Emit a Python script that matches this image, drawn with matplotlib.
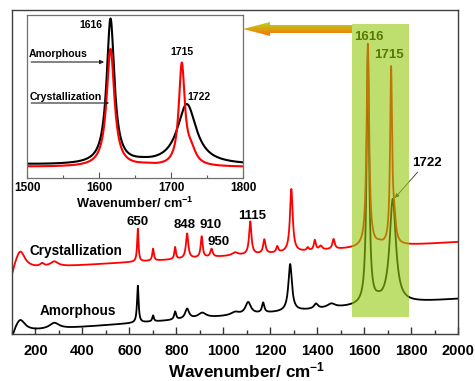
import numpy as np
import matplotlib
matplotlib.use("Agg")
import matplotlib.pyplot as plt
from matplotlib.patches import Rectangle, Polygon
from matplotlib.ticker import MultipleLocator

plt.rcParams['font.family'] = ['Liberation Sans', 'DejaVu Sans']
plt.rcParams['mathtext.fontset'] = 'custom'
plt.rcParams['mathtext.rm'] = 'Liberation Sans:bold'
plt.rcParams['mathtext.bf'] = 'Liberation Sans:bold'
plt.rcParams['mathtext.default'] = 'bf'

# ---------------- data ----------------
# Raman bands: centre (cm-1), height (a.u.), half width (cm-1)
amorph_centers = [100, 135, 280, 636, 701, 795, 846, 910, 1050, 1106, 1170, 1285, 1395, 1460, 1616, 1660, 1722]
amorph_heights = [-8, 12, 6, 37, 6, 8, 10, 5, 3, 12, 10, 47, 5, 4, 250, 2, 104]
amorph_widths = [10, 25, 25, 4, 4, 5, 10, 20, 20, 14, 6, 9, 10, 20, 6.5, 15, 16]
amorph_base = (0.0, 0.0175)          # baseline intercept, slope

cryst_centers = [100, 135, 228, 280, 636, 701, 795, 846, 908, 950, 1050, 1115, 1175, 1230, 1290,
                 1360, 1390, 1415, 1470, 1616, 1665, 1715, 1728]
cryst_heights = [-10, 18, 3, 5, 33, 12, 12, 25, 21, 8, 3, 33, 14, 6, 63,
                 3, 10, 4, 10, 203, 2, 173, 22]
cryst_widths = [10, 25, 10, 20, 3.5, 4, 4, 6, 5, 6, 15, 6, 6, 5, 7,
                5, 5, 8, 6, 6.5, 15, 5.0, 8]
cryst_base = (63.0, 0.0145)

# inset: same spectra, baseline removed and rescaled
inset_scale = 0.58
inset_offset_amorph = 13
inset_offset_cryst = 11

main_peak_labels = ["650", "848", "910", "950", "1115"]
main_label_x = [637, 837, 948, 982, 1122]
main_label_y = [112, 109, 109, 92, 118]

# ---------------- spectra ----------------
x = np.arange(100, 2000.01, 0.5)

def bands(centers, heights, widths):
    y = np.zeros_like(x)
    for c, h, w in zip(centers, heights, widths):
        y += h * w**2 / ((x - c)**2 + w**2)
    return y

amorph_bands = bands(amorph_centers, amorph_heights, amorph_widths)
cryst_bands = bands(cryst_centers, cryst_heights, cryst_widths)
amorph = amorph_base[0] + amorph_base[1] * x + amorph_bands
cryst = cryst_base[0] + cryst_base[1] * x + cryst_bands

W, H = 475, 381
fig = plt.figure(figsize=(W / 100, H / 100), dpi=100)

# ---------------- main axes ----------------
ax = fig.add_axes([12 / W, 1 - 334 / H, 446 / W, 324 / H])
ax.set_zorder(1)
ax.plot(x, amorph, color='black', lw=1.3, zorder=2)
ax.plot(x, cryst, color='#ff0000', lw=1.3, zorder=2)
ax.set_xlim(100, 2000)
ax.set_ylim(0, 324)
ax.set_yticks([])
ax.xaxis.set_major_locator(MultipleLocator(200))
ax.xaxis.set_minor_locator(MultipleLocator(100))
ax.tick_params(axis='x', which='major', direction='in', length=5, width=1, pad=7,
               labelsize=10.5, color='#333333')
ax.tick_params(axis='x', which='minor', direction='in', length=3, width=1, color='#333333')
for lab in ax.get_xticklabels():
    lab.set_fontweight('bold')
for s in ax.spines.values():
    s.set_color('#404040')
    s.set_linewidth(1.0)
ax.set_xlabel(r'Wavenumber/ cm$^{-1}$', fontsize=12.3, fontweight='bold')
ax.xaxis.set_label_coords(0.527, -0.081)

# highlight box
ax.add_patch(Rectangle((1550, 17), 240, 293, facecolor=(147 / 255, 200 / 255, 13 / 255),
                       alpha=0.6, edgecolor='none', zorder=3))
ax.text(1621, 297, '1616', ha='center', va='center', fontsize=9.5, fontweight='bold', zorder=2.5)
ax.text(1706, 279, '1715', ha='center', va='center', fontsize=9.5, fontweight='bold', zorder=2.5)
ax.text(1868, 171, '1722', ha='center', va='center', fontsize=9.5, fontweight='bold', zorder=4)
ax.annotate('', xy=(1723, 134), xytext=(1836, 164),
            arrowprops=dict(arrowstyle='-|>', color='#333333', lw=0.6, mutation_scale=6),
            zorder=2.5)

for t, tx, ty in zip(main_peak_labels, main_label_x, main_label_y):
    ax.text(tx, ty, t, ha='center', va='center', fontsize=9.5, fontweight='bold', zorder=4)

ax.text(373, 83, 'Crystallization', ha='center', va='center', fontsize=9.8, fontweight='bold')
ax.text(381, 23, 'Amorphous', ha='center', va='center', fontsize=9.8, fontweight='bold')

# ---------------- inset ----------------
ins = fig.add_axes([27 / W, 1 - 178 / H, 216 / W, 163 / H])
ins.set_zorder(2)
m = (x >= 1500) & (x <= 1800)
ins.plot(x[m], amorph_bands[m] * inset_scale + inset_offset_amorph, color='black', lw=1.5)
ins.plot(x[m], cryst_bands[m] * inset_scale + inset_offset_cryst, color='#ff0000', lw=1.5)
ins.set_xlim(1500, 1800)
ins.set_ylim(0, 163)
ins.set_yticks([])
ins.xaxis.set_major_locator(MultipleLocator(100))
ins.xaxis.set_minor_locator(MultipleLocator(50))
ins.tick_params(axis='x', which='major', direction='in', length=4, width=0.8, pad=3,
                labelsize=8.5, color='#555555')
ins.tick_params(axis='x', which='minor', direction='in', length=2.5, width=0.8, color='#555555')
for lab in ins.get_xticklabels():
    lab.set_fontweight('bold')
for s in ins.spines.values():
    s.set_color('#707070')
    s.set_linewidth(0.9)
ins.set_xlabel(r'Wavenumber/ cm$^{-1}$', fontsize=9.2, fontweight='bold', labelpad=1)

ins.text(1589, 153, '1616', ha='center', va='center', fontsize=7.5, fontweight='bold')
ins.text(1715, 126, '1715', ha='center', va='center', fontsize=7.5, fontweight='bold')
ins.text(1739, 81, '1722', ha='center', va='center', fontsize=7.5, fontweight='bold')
ins.text(1503, 124, 'Amorphous', ha='left', va='center', fontsize=7.6, fontweight='bold')
ins.text(1503, 81, 'Crystallization', ha='left', va='center', fontsize=7.6, fontweight='bold')
ins.annotate('', xy=(1611, 116), xytext=(1502, 116),
             arrowprops=dict(arrowstyle='-|>', color='#222222', lw=0.8, mutation_scale=6))
ins.annotate('', xy=(1618, 75), xytext=(1502, 75),
             arrowprops=dict(arrowstyle='-|>', color='#222222', lw=0.8, mutation_scale=6))

# ---------------- gradient arrow (figure pixels) ----------------
ov = fig.add_axes([0, 0, 1, 1])
ov.set_zorder(3)
ov.axis('off')
ov.patch.set_visible(False)
arrow_pts = [(243, 29), (270, 22), (270, 25), (352, 25), (352, 33), (270, 33), (270, 36)]
poly = Polygon(arrow_pts, closed=True, facecolor='none', edgecolor='none')
ov.add_patch(poly)
top = np.array([185, 212, 20]) / 255
bot = np.array([250, 112, 10]) / 255
t = np.linspace(0, 1, 64)[:, None, None]
grad = np.repeat(top * (1 - t) + bot * t, 2, axis=1)
im = ov.imshow(grad, extent=[243, 352, 36, 22], aspect='auto', interpolation='bilinear')
im.set_clip_path(poly)
ov.set_xlim(0, W)
ov.set_ylim(H, 0)

fig.savefig('out.png', dpi=100)
